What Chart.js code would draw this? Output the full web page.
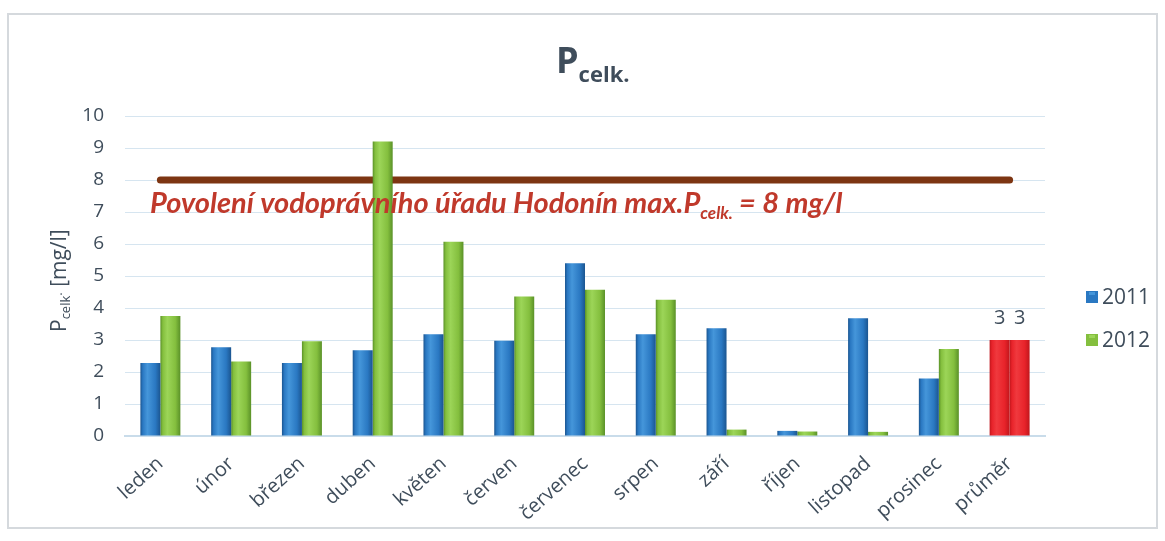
<!DOCTYPE html>
<html>
<head>
<meta charset="utf-8">
<script src="https://cdn.jsdelivr.net/npm/chart.js@4"></script>
<style>
  html, body { margin: 0; padding: 0; background: #fff; }
  #wrap { position: relative; width: 1165px; height: 541px; }
  #frame { position: absolute; left: 7px; top: 13px; width: 1151px; height: 516px; border: 2px solid #d5d9dd; box-sizing: border-box; }
  canvas { position: absolute; left: 0; top: 0; }
</style>
</head>
<body>
<div id="wrap">
  <div id="frame"></div>
  <canvas id="chart" width="1165" height="541"></canvas>
</div>
<script>
const months = ['leden', 'únor', 'březen', 'duben', 'květen', 'červen', 'červenec', 'srpen', 'září', 'říjen', 'listopad', 'prosinec', 'průměr'];
const values2011 = [2.28, 2.77, 2.28, 2.68, 3.18, 2.98, 5.4, 3.18, 3.37, 0.16, 3.68, 1.8, 3];
const values2012 = [3.75, 2.33, 2.96, 9.2, 6.07, 4.36, 4.57, 4.26, 0.2, 0.14, 0.13, 2.72, 3];
const limitValue = 8;
const limitLine = months.map(() => limitValue);
const yTicks = [0, 1, 2, 3, 4, 5, 6, 7, 8, 9, 10];

const textColor = '#3f4d5b';
const catPct = 0.565;

// [dark edge, highlight, base]
const blueShades = ['#1b5590', '#4596da', '#2a78c2'];
const greenShades = ['#5a9128', '#9cd558', '#84bf3e'];
const redShades = ['#c0161c', '#f0393e', '#e8232a'];

// horizontal gradient across each bar, built from the x scale so it follows the bar
function barFill(shades, side) {
    return (c) => {
        const chart = c.chart;
        const xs = chart.scales.x;
        const set = c.dataIndex === months.length - 1 ? redShades : shades;
        if (!xs || c.dataIndex === undefined) return set[2];
        const w = (xs.width / months.length) * catPct / 2;
        const center = xs.getPixelForValue(c.dataIndex);
        const x0 = side === 0 ? center - w : center;
        if (!isFinite(x0) || !isFinite(w) || w <= 0) return set[2];
        const g = chart.ctx.createLinearGradient(x0, 0, x0 + w, 0);
        g.addColorStop(0, set[0]);
        g.addColorStop(0.12, set[2]);
        g.addColorStop(0.35, set[1]);
        g.addColorStop(0.75, set[2]);
        g.addColorStop(1, set[0]);
        return g;
    };
}

// subscripted text helper: parts = [[text, size, dy], ...]
function drawParts(ctx, parts, x, y, style, family) {
    let cx = x;
    parts.forEach(([txt, size, dy]) => {
        ctx.font = style + ' ' + size + 'px ' + family;
        ctx.fillText(txt, cx, y + dy);
        cx += ctx.measureText(txt).width;
    });
}

const extrasPlugin = {
    id: 'extras',
    afterDatasetsDraw(chart) {
        const ctx = chart.ctx;
        ctx.save();
        ctx.textBaseline = 'alphabetic';
        ctx.textAlign = 'left';

        // limit annotation
        ctx.fillStyle = '#c0392b';
        const yLine = chart.scales.y.getPixelForValue(limitValue);
        drawParts(ctx, [
            ['Povolení vodoprávního úřadu Hodonín max.P', 29, 0],
            ['celk.', 17, 6],
            [' = 8 mg/l', 29, 0]
        ], 150, yLine + 33, 'italic bold', 'Lato');

        // value labels above the average bars
        ctx.fillStyle = textColor;
        ctx.textAlign = 'center';
        ctx.font = '20px "Open Sans"';
        const last = months.length - 1;
        [0, 1].forEach(di => {
            const bar = chart.getDatasetMeta(di).data[last];
            const v = chart.data.datasets[di].data[last];
            ctx.fillText(String(v), bar.x, bar.y - 16);
        });
        ctx.restore();
    },
    afterDraw(chart) {
        const ctx = chart.ctx;
        ctx.save();
        ctx.fillStyle = textColor;
        ctx.textAlign = 'left';
        ctx.textBaseline = 'alphabetic';

        // title P_celk.
        drawParts(ctx, [['P', 36, 0], ['celk.', 22, 9]], 556, 73, 'bold', '"Open Sans"');

        // y axis title
        ctx.translate(66, 332);
        ctx.rotate(-Math.PI / 2);
        drawParts(ctx, [['P', 21, 0], ['celk', 13, 4], ['\u00b7', 13, 0], [' [mg/l]', 21, 0]], 0, 0, '', '"Open Sans"');
        ctx.restore();

        // legend
        ctx.save();
        const items = [['2011', blueShades, 297], ['2012', greenShades, 340]];
        items.forEach(([label, shades, y]) => {
            ctx.fillStyle = shades[2];
            ctx.fillRect(1086, y - 6, 12, 12);
            ctx.fillStyle = shades[1];
            ctx.fillRect(1089, y - 5, 6, 3);
            ctx.fillStyle = textColor;
            ctx.font = '21px "Open Sans"';
            ctx.textBaseline = 'middle';
            ctx.fillText(label, 1102, y + 1);
        });
        ctx.restore();
    }
};

new Chart(document.getElementById('chart'), {
    type: 'bar',
    data: {
        labels: months,
        datasets: [
            {
                label: '2011',
                data: values2011,
                backgroundColor: barFill(blueShades, 0),
                borderWidth: 0,
                order: 1
            },
            {
                label: '2012',
                data: values2012,
                backgroundColor: barFill(greenShades, 1),
                borderWidth: 0,
                order: 1
            },
            {
                type: 'line',
                label: 'limit',
                data: limitLine,
                borderColor: '#7d3512',
                borderWidth: 7,
                borderCapStyle: 'round',
                pointRadius: 0,
                fill: false,
                order: 2
            }
        ]
    },
    options: {
        responsive: false,
        animation: false,
        layout: { padding: { top: 116, right: 120, bottom: 0, left: 0 } },
        plugins: {
            legend: { display: false },
            tooltip: { enabled: false }
        },
        datasets: {
            bar: { categoryPercentage: catPct, barPercentage: 1 }
        },
        scales: {
            x: {
                grid: { display: false, drawTicks: false },
                border: { color: '#c9dcea', width: 2 },
                ticks: {
                    color: textColor,
                    font: { family: 'Open Sans', size: 20 },
                    minRotation: 42,
                    maxRotation: 42,
                    padding: 16
                },
                afterFit(scale) { scale.height = 105; }
            },
            y: {
                min: 0,
                max: 10,
                afterBuildTicks(scale) { scale.ticks = yTicks.map(v => ({ value: v })); },
                grid: { color: '#d6e5f0', drawTicks: false },
                border: { display: false },
                ticks: {
                    color: textColor,
                    font: { family: 'Open Sans', size: 19 },
                    padding: 21
                },
                afterFit(scale) { scale.width = 125; }
            }
        }
    },
    plugins: [extrasPlugin]
});
</script>
</body>
</html>
